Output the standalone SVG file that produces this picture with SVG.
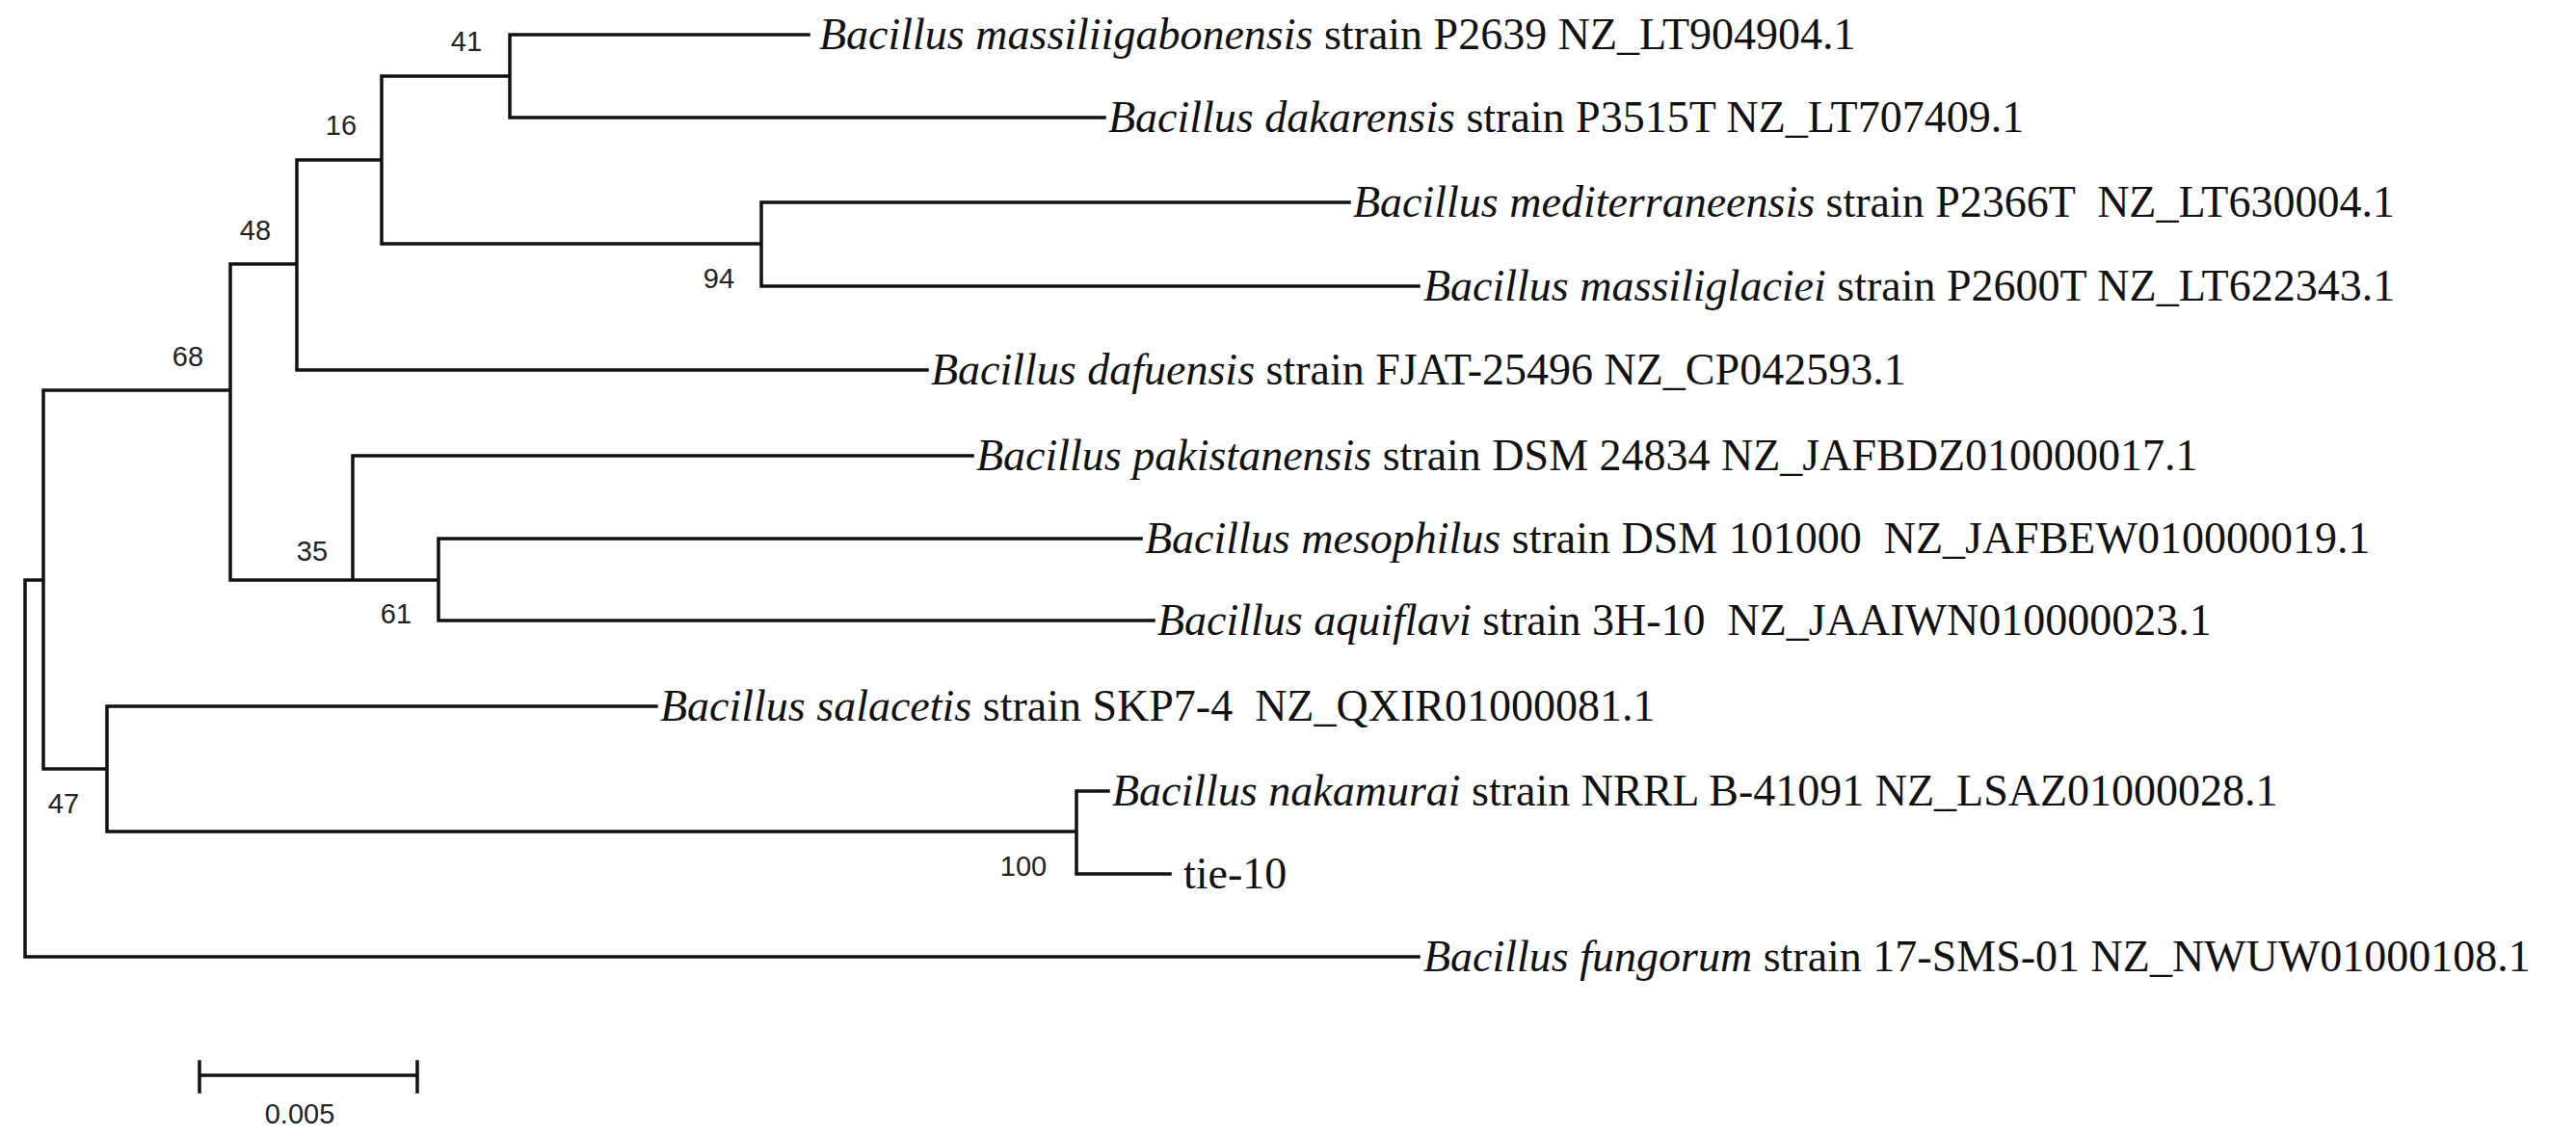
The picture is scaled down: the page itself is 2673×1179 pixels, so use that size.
<svg xmlns="http://www.w3.org/2000/svg" width="2673" height="1179" viewBox="0 0 2673 1179">
<style>
.e{fill:none;stroke:#111;stroke-width:3.5;stroke-linecap:square}
.t{font-family:"Liberation Serif","Times New Roman",serif;font-size:46px;fill:#111;white-space:pre}
.b{font-family:"Liberation Sans",Arial,sans-serif;font-size:29px;fill:#222;text-anchor:middle}
</style>
<rect width="2673" height="1179" fill="#fff"/>
<g id="connectors">
<path class="e" d="M26,602V993H1472M26,602H45M45,405V798M45,405H239M239,274V602M239,274H308M308,166V384H962M308,166H396M396,79V253M396,79H529M529,36V122M529,36H839M529,122H1146M396,253H790M790,210V297M790,210H1400M790,297H1472M239,602H366M366,473V602M366,473H1009M366,602H455M455,559V644M455,559H1184M455,644H1197M45,798H111M111,733V863M111,733H681M111,863H1117M1117,821V907M1117,821H1150M1117,907H1214"/>
</g>
<g id="leaves">
<text class="t" x="850" y="51"><tspan font-style="italic">Bacillus massiliigabonensis</tspan> strain P2639 NZ_LT904904.1</text>
<text class="t" x="1150" y="137"><tspan font-style="italic">Bacillus dakarensis</tspan> strain P3515T NZ_LT707409.1</text>
<text class="t" x="1404" y="225"><tspan font-style="italic">Bacillus mediterraneensis</tspan> strain P2366T  NZ_LT630004.1</text>
<text class="t" x="1477" y="312"><tspan font-style="italic">Bacillus massiliglaciei</tspan> strain P2600T NZ_LT622343.1</text>
<text class="t" x="966" y="399"><tspan font-style="italic">Bacillus dafuensis</tspan> strain FJAT-25496 NZ_CP042593.1</text>
<text class="t" x="1013" y="488"><tspan font-style="italic">Bacillus pakistanensis</tspan> strain DSM 24834 NZ_JAFBDZ010000017.1</text>
<text class="t" x="1188" y="574"><tspan font-style="italic">Bacillus mesophilus</tspan> strain DSM 101000  NZ_JAFBEW010000019.1</text>
<text class="t" x="1201" y="659"><tspan font-style="italic">Bacillus aquiflavi</tspan> strain 3H-10  NZ_JAAIWN010000023.1</text>
<text class="t" x="685" y="748"><tspan font-style="italic">Bacillus salacetis</tspan> strain SKP7-4  NZ_QXIR01000081.1</text>
<text class="t" x="1154" y="836"><tspan font-style="italic">Bacillus nakamurai</tspan> strain NRRL B-41091 NZ_LSAZ01000028.1</text>
<text class="t" x="1228" y="922">tie-10</text>
<text class="t" x="1477" y="1008"><tspan font-style="italic">Bacillus fungorum</tspan> strain 17-SMS-01 NZ_NWUW01000108.1</text>
</g>
<g id="bootstrap">
<text class="b" x="484" y="53">41</text>
<text class="b" x="354" y="140">16</text>
<text class="b" x="265" y="249">48</text>
<text class="b" x="746" y="299">94</text>
<text class="b" x="195" y="380">68</text>
<text class="b" x="324" y="582">35</text>
<text class="b" x="411" y="647">61</text>
<text class="b" x="66" y="844">47</text>
<text class="b" x="1062" y="909">100</text>
</g>
<g id="scale">
<path class="e" d="M207,1116H433M207,1102V1133M433,1102V1133"/>
<text class="b" x="311" y="1166">0.005</text>
</g>
</svg>
